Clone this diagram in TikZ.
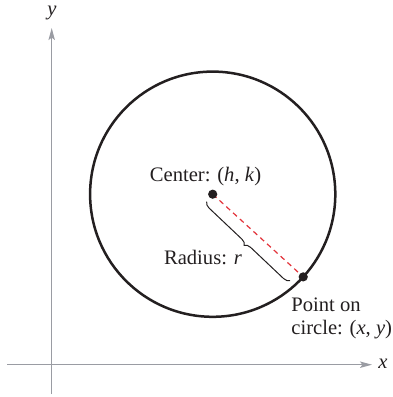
\documentclass[tikz,border=0pt]{standalone}
\usepackage{fontspec}
\setmainfont{Liberation Serif}
\usepackage{xcolor}
\usepackage{tikz}
\usetikzlibrary{positioning,arrows.meta,calc,decorations.pathreplacing}
\definecolor{ink}{HTML}{231F20}
\definecolor{axisg}{HTML}{9A9CA3}
\definecolor{rad}{HTML}{E2333A}

\begin{document}
\begin{tikzpicture}[x=0.5pt,y=-0.5pt,every node/.style={font=\fontsize{10.3}{11.6}\selectfont,text=ink},
  ax/.style={draw=axisg,line width=0.65pt,-{Stealth[length=6pt,width=3.2pt,inset=1.2pt]}},
  rim/.style={draw=ink,line width=1.25pt},
  dot/.style={circle,fill=ink,inner sep=0pt,minimum size=4.6pt},
  rd/.style={draw=rad,line width=0.6pt,dash pattern=on 2.6pt off 2pt},
  brc/.style={draw=ink,line width=0.5pt,decorate,decoration={brace,amplitude=3pt}}]
  \useasboundingbox (0,0) rectangle (392,397);
  % axes
  \coordinate (x0) at (7,364.7); \coordinate (x1) at (372,364.7);
  \coordinate (y0) at (51.7,394); \coordinate (y1) at (51.7,28);
  \draw[ax] (x0)--(x1); \draw[ax] (y0)--(y1);
  \node (xl) at (383,364) {\textit{x}};
  \node (yl) at (52,13) {\textit{y}};
  % circle, center and point
  \coordinate (c) at (212.7,194.2);
  \draw[rim] (c) circle[radius=61.3pt];
  \coordinate (p) at ($(c)+(42.4:122.6)$);
  \draw[rd] (c)--(p);
  \node[dot] (cd) at (c) {};
  \node[dot] (pd) at (p) {};
  % brace
  \coordinate (b1) at (206.7,201.7); \coordinate (b2) at (290,280.5);
  \draw[brc] (b2)--(b1);
  \node (cl) at (205.5,176.5) {Center: (\textit{h}, \textit{k})};
  \node (rl) at (203,257) {Radius: \textit{r}};
  \node[anchor=west,align=left,inner sep=0pt] (pl) at (291,318.5) {Point on\\circle: (\textit{x}, \textit{y})};
\end{tikzpicture}
\end{document}
